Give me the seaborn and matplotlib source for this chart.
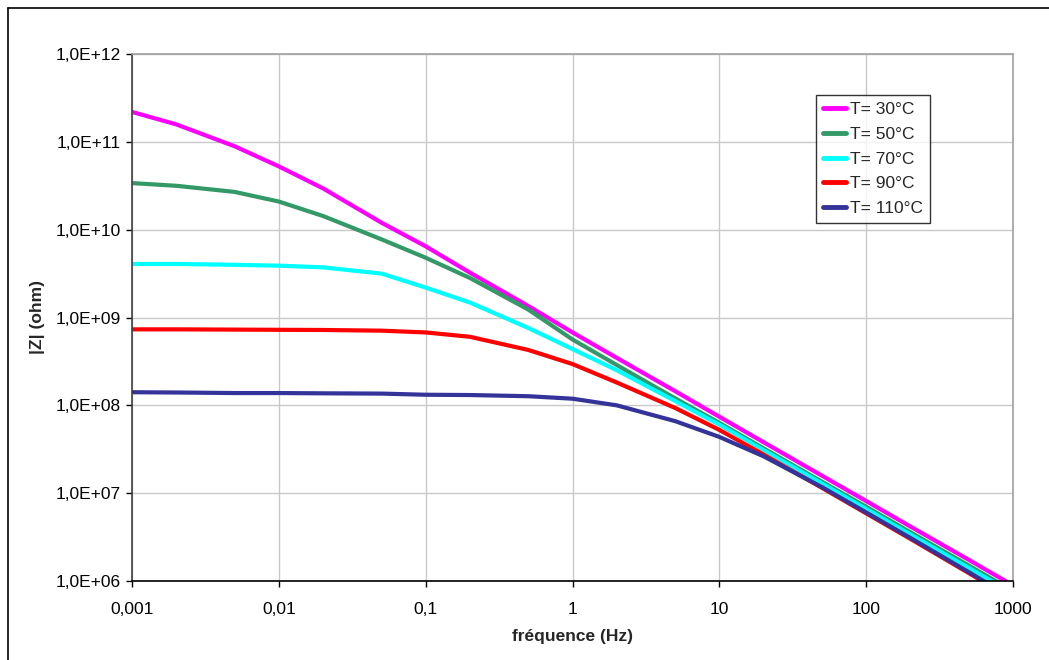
import numpy as np
import pandas as pd
import matplotlib
matplotlib.use("Agg")
import matplotlib.pyplot as plt
import seaborn as sns
from matplotlib.lines import Line2D

# frequencies (Hz) at which the curves were read
freq = [0.001, 0.002, 0.005, 0.01, 0.02, 0.05, 0.1, 0.2, 0.5, 1,
        2, 5, 10, 20, 50, 100, 200, 500, 1000]

# |Z| (ohm) per temperature
z_30 = [2.19e11, 1.58e11, 8.9e10, 5.25e10, 2.95e10, 1.20e10, 6.46e9, 3.24e9, 1.35e9, 6.76e8,
        3.47e8, 1.45e8, 7.41e7, 3.80e7, 1.58e7, 8.13e6, 4.17e6, 1.74e6, 8.9e5]
z_50 = [3.39e10, 3.16e10, 2.69e10, 2.09e10, 1.43e10, 7.76e9, 4.79e9, 2.82e9, 1.23e9, 5.62e8,
        2.88e8, 1.20e8, 6.31e7, 3.24e7, 1.35e7, 7.0e6, 3.59e6, 1.50e6, 7.67e5]
z_70 = [4.07e9, 4.07e9, 3.98e9, 3.89e9, 3.72e9, 3.16e9, 2.19e9, 1.48e9, 7.59e8, 4.37e8,
        2.51e8, 1.12e8, 6.03e7, 3.09e7, 1.29e7, 6.61e6, 3.39e6, 1.41e6, 7.24e5]
z_90 = [7.33e8, 7.33e8, 7.28e8, 7.24e8, 7.21e8, 7.08e8, 6.76e8, 6.03e8, 4.27e8, 2.95e8,
        1.82e8, 9.33e7, 5.25e7, 2.75e7, 1.15e7, 5.89e6, 3.02e6, 1.23e6, 6.17e5]
z_110 = [1.41e8, 1.40e8, 1.38e8, 1.38e8, 1.37e8, 1.36e8, 1.32e8, 1.31e8, 1.27e8, 1.19e8,
         1.0e8, 6.61e7, 4.37e7, 2.63e7, 1.17e7, 6.03e6, 3.09e6, 1.26e6, 6.31e5]

series_labels = ["T= 30°C", "T= 50°C", "T= 70°C", "T= 90°C", "T= 110°C"]
series_colors = ["#FF00FF", "#339966", "#00FFFF", "#FF0000", "#333399"]

x_ticks = [0.001, 0.01, 0.1, 1, 10, 100, 1000]
x_ticklabels = ["0,001", "0,01", "0,1", "1", "10", "100", "1000"]
y_ticks = [1e6, 1e7, 1e8, 1e9, 1e10, 1e11, 1e12]
y_ticklabels = ["1,0E+06", "1,0E+07", "1,0E+08", "1,0E+09", "1,0E+10", "1,0E+11", "1,0E+12"]

# long-form table for seaborn
rows = []
for lab, vals in zip(series_labels, [z_30, z_50, z_70, z_90, z_110]):
    for f, z in zip(freq, vals):
        rows.append({"freq": f, "Z": z, "T": lab})
df = pd.DataFrame(rows)

sns.set_theme(style="white")
plt.rcParams["font.family"] = ["Liberation Sans", "DejaVu Sans"]

fig = plt.figure(figsize=(10.49, 6.6), dpi=100)
ax = fig.add_axes([132 / 1049, 1 - 581 / 660, (1013 - 132) / 1049, (581 - 54) / 660])
ax.set_xscale("log")
ax.set_yscale("log")

sns.lineplot(data=df, x="freq", y="Z", hue="T", hue_order=series_labels,
             palette=series_colors, linewidth=3.0, ax=ax, legend=False)

ax.set_xlim(0.001, 1000)
ax.set_ylim(1e6, 1e12)
ax.set_xticks(x_ticks)
ax.set_xticklabels(x_ticklabels)
ax.set_yticks(y_ticks)
ax.set_yticklabels(y_ticklabels)
ax.minorticks_off()
ax.tick_params(axis="both", which="major", direction="out", length=4, width=1,
               color="black", labelsize=12.5, labelcolor="black",
               bottom=True, left=True)
ax.tick_params(axis="x", pad=11)
ax.tick_params(axis="y", pad=4)
ax.grid(True, which="major", color="#c8c8c8", linewidth=1)

ax.spines["left"].set_color("#404040")
ax.spines["bottom"].set_color("black")
ax.spines["top"].set_color("#a0a0a0")
ax.spines["right"].set_color("#a0a0a0")
for s in ax.spines.values():
    s.set_linewidth(1.2)

ax.set_xlabel("fréquence (Hz)", fontsize=12.5, fontweight="bold", labelpad=9)
ax.set_ylabel("|Z| (ohm)", fontsize=12.5, fontweight="bold", labelpad=8)

handles = [Line2D([], [], color=c, linewidth=3.5) for c in series_colors]
leg = ax.legend(handles, series_labels, loc="upper left", bbox_to_anchor=(0.776, 0.922),
                borderaxespad=0, fontsize=12.5, frameon=True, fancybox=False,
                handlelength=1.35, handletextpad=0.25, labelspacing=0.55,
                borderpad=0.4)
leg.get_frame().set_edgecolor("black")
leg.get_frame().set_linewidth(1)

# chart outer border (cut off at the right and bottom of the picture)
fig.add_artist(Line2D([8 / 1049, 1.0], [1 - 8 / 660, 1 - 8 / 660], color="black", linewidth=1.2))
fig.add_artist(Line2D([8 / 1049, 8 / 1049], [1 - 8 / 660, 0.0], color="black", linewidth=1.2))

fig.savefig("out.png", dpi=100)
